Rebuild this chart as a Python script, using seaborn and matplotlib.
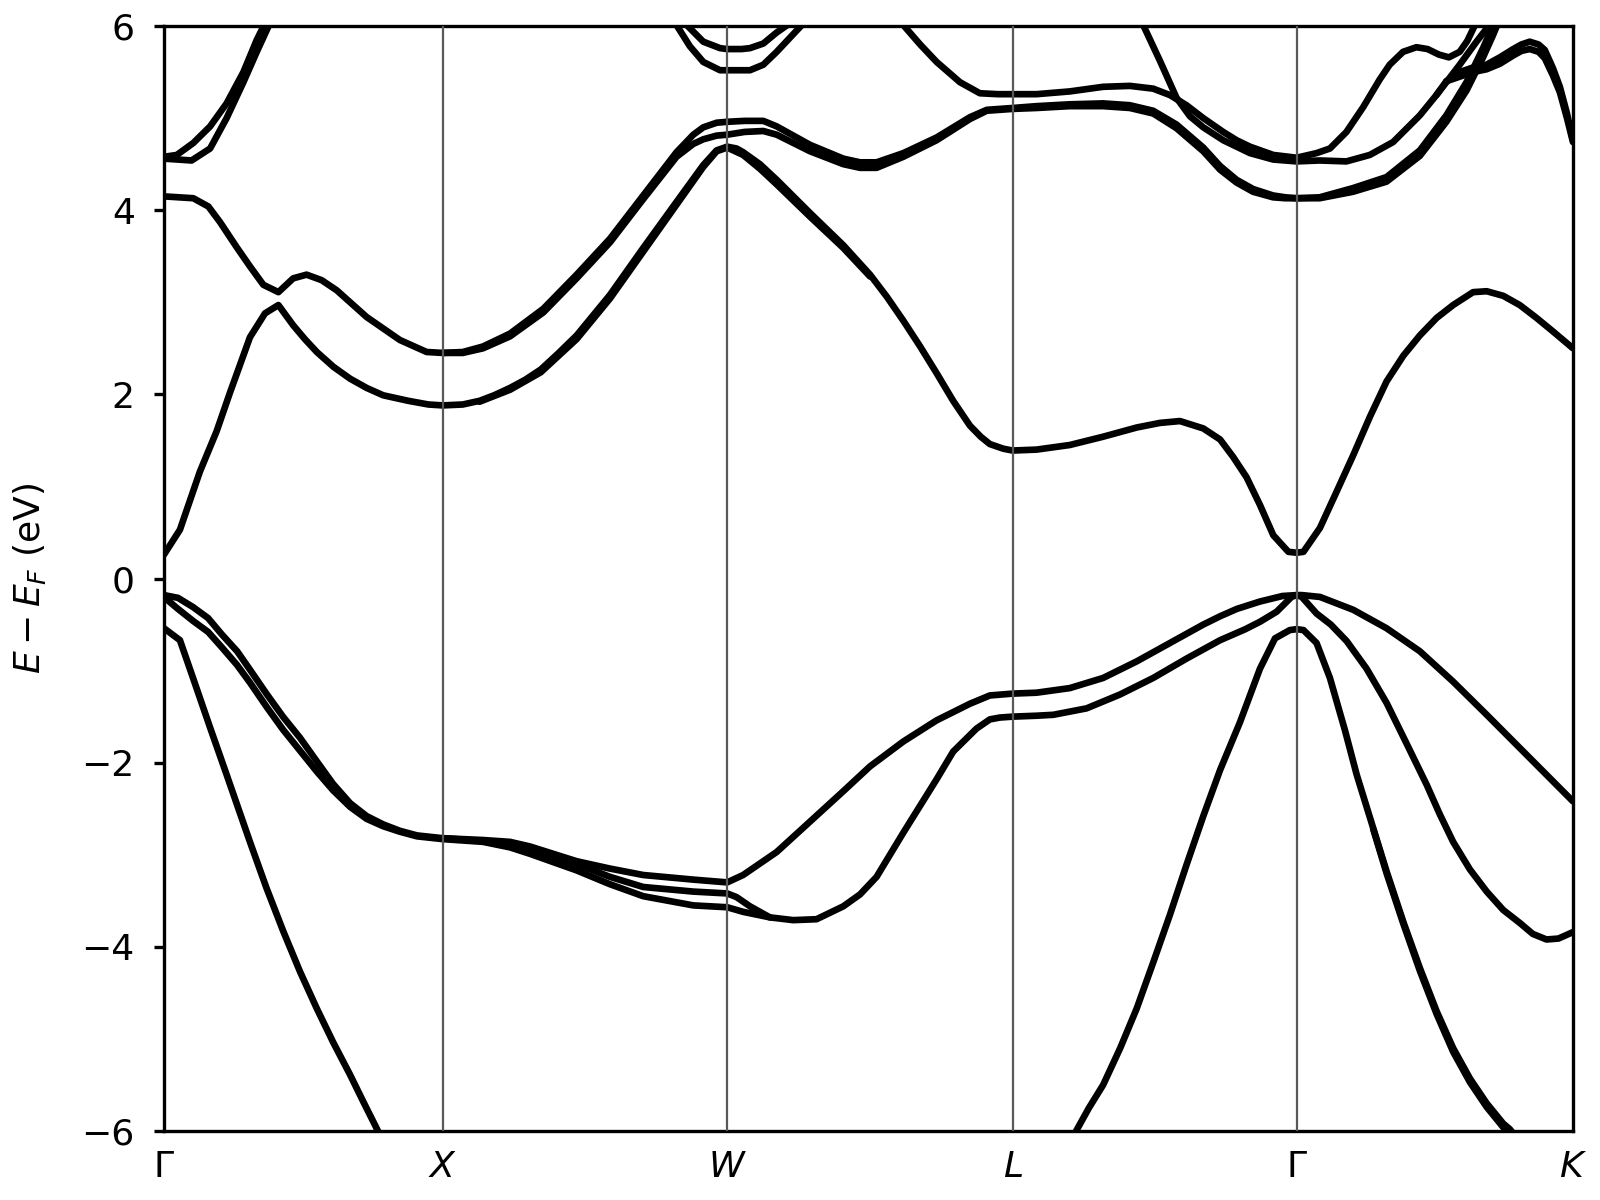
import matplotlib
matplotlib.use("Agg")
import numpy as np
import pandas as pd
import matplotlib.pyplot as plt
import seaborn as sns

# high-symmetry points along the k-path
k_ticks = [0.0, 0.979, 1.979, 2.982, 3.980, 4.951]
k_labels = [r'$\Gamma$', r'$X$', r'$W$', r'$L$', r'$\Gamma$', r'$K$']

# valence bands
vb_top_k = [0, .049, .102, .155, .204, .257, .302, .362, .418, .478, .538, .594, .654, .712, .770, .829, .889, .979,
            1.121, 1.216, 1.286, 1.450, 1.567, 1.684, 1.860, 1.979,
            2.035, 2.153, 2.270, 2.387, 2.481, 2.598, 2.715, 2.832, 2.902, 2.982,
            3.066, 3.183, 3.300, 3.418, 3.535, 3.652, 3.711, 3.770, 3.851, 3.930, 3.980,
            3.998, 4.062, 4.179, 4.296, 4.413, 4.530, 4.648, 4.764, 4.893, 4.951]
vb_top_E = [-0.18, -0.21, -0.31, -0.43, -0.61, -0.79, -0.99, -1.26, -1.50, -1.73, -1.99, -2.23, -2.44, -2.58, -2.67, -2.74, -2.79, -2.82,
            -2.84, -2.86, -2.91, -3.07, -3.15, -3.22, -3.27, -3.30,
            -3.22, -2.97, -2.64, -2.31, -2.04, -1.77, -1.54, -1.36, -1.27, -1.25,
            -1.24, -1.19, -1.08, -0.90, -0.70, -0.50, -0.41, -0.33, -0.25, -0.19, -0.18,
            -0.18, -0.20, -0.34, -0.54, -0.79, -1.12, -1.48, -1.84, -2.24, -2.42]

vb_mid_k = [0.979, 1.121, 1.216, 1.286, 1.450, 1.567, 1.684, 1.860, 1.979, 2.012, 2.059, 2.129]
vb_mid_E = [-2.82, -2.85, -2.89, -2.95, -3.10, -3.24, -3.35, -3.40, -3.42, -3.46, -3.56, -3.68]

vb_low_k = [0, .007, .049, .102, .155, .204, .257, .302, .362, .418, .478, .538, .594, .654, .712, .770, .829, .889, .979,
            1.121, 1.216, 1.286, 1.450, 1.567, 1.684, 1.860, 1.979,
            2.035, 2.129, 2.211, 2.293, 2.387, 2.446, 2.504, 2.598, 2.715, 2.773, 2.855, 2.902, 2.937, 2.982,
            3.066, 3.125, 3.242, 3.359, 3.476, 3.593, 3.711, 3.800, 3.851, 3.910, 3.962, 3.980,
            3.998, 4.050, 4.100, 4.156, 4.226, 4.296, 4.366, 4.437, 4.483, 4.530, 4.589, 4.648, 4.706, 4.764, 4.810, 4.858, 4.900, 4.951]
vb_low_E = [-0.18, -0.22, -0.33, -0.46, -0.58, -0.75, -0.94, -1.13, -1.40, -1.64, -1.87, -2.10, -2.30, -2.48, -2.61, -2.69, -2.75, -2.80, -2.83,
            -2.86, -2.92, -2.99, -3.17, -3.32, -3.45, -3.55, -3.57,
            -3.62, -3.68, -3.71, -3.70, -3.56, -3.43, -3.24, -2.76, -2.18, -1.88, -1.63, -1.53, -1.51, -1.50,
            -1.49, -1.48, -1.41, -1.26, -1.08, -0.87, -0.67, -0.55, -0.47, -0.36, -0.20, -0.18,
            -0.20, -0.38, -0.50, -0.68, -0.98, -1.35, -1.79, -2.24, -2.56, -2.86, -3.16, -3.40, -3.60, -3.74, -3.86, -3.92, -3.91, -3.84]

# split-off band
so_gx_k = [0.0, 0.056, 0.102, 0.161, 0.220, 0.302, 0.360, 0.419, 0.478, 0.537, 0.595, 0.654, 0.700, 0.747, 0.78]
so_gx_E = [-0.54, -0.67, -1.08, -1.61, -2.13, -2.86, -3.36, -3.83, -4.27, -4.67, -5.04, -5.39, -5.68, -5.97, -6.18]

so_k = [3.18, 3.207, 3.250, 3.300, 3.360, 3.418, 3.476, 3.535, 3.593, 3.652, 3.711, 3.781, 3.851, 3.904, 3.956, 3.980,
        4.004, 4.050, 4.097, 4.150, 4.191, 4.249, 4.296, 4.355, 4.413, 4.472, 4.530, 4.589, 4.648, 4.706, 4.729, 4.76]
so_E = [-6.15, -5.99, -5.75, -5.50, -5.10, -4.67, -4.17, -3.65, -3.11, -2.58, -2.08, -1.56, -0.98, -0.65, -0.56, -0.55,
        -0.56, -0.70, -1.08, -1.65, -2.13, -2.71, -3.18, -3.73, -4.23, -4.70, -5.10, -5.43, -5.70, -5.92, -5.98, -6.10]

so2_k = [4.249, 4.296, 4.355, 4.413, 4.472, 4.530, 4.589, 4.648, 4.706, 4.74]
so2_E = [-2.72, -3.20, -3.75, -4.26, -4.73, -5.14, -5.47, -5.74, -5.96, -6.10]

# conduction bands
cb1_k = [0, .056, .126, .185, .232, .302, .355, .402, .454, .495, .537, .595, .654, .712, .770, .858, .929, .979,
         1.05, 1.109, 1.160, 1.216, 1.270, 1.324, 1.387, 1.450, 1.567, 1.684, 1.801, 1.895, 1.942, 1.979,
         2.012, 2.035, 2.094, 2.153, 2.270, 2.387, 2.481, 2.540, 2.598, 2.657, 2.715, 2.773, 2.832, 2.870, 2.902, 2.949, 2.982,
         3.066, 3.183, 3.300, 3.418, 3.500, 3.570, 3.652, 3.711, 3.757, 3.804, 3.851, 3.898, 3.951, 3.980,
         4.004, 4.062, 4.120, 4.179, 4.238, 4.296, 4.355, 4.413, 4.472, 4.530, 4.600, 4.648, 4.706, 4.764, 4.823, 4.882, 4.951]
cb1_E = [0.26, 0.53, 1.16, 1.60, 2.02, 2.62, 2.88, 2.97, 2.75, 2.60, 2.46, 2.30, 2.17, 2.07, 1.99, 1.93, 1.89, 1.88,
         1.89, 1.93, 1.99, 2.07, 2.16, 2.27, 2.45, 2.64, 3.08, 3.59, 4.09, 4.49, 4.65, 4.69,
         4.67, 4.63, 4.50, 4.33, 3.97, 3.62, 3.30, 3.06, 2.80, 2.52, 2.23, 1.93, 1.66, 1.54, 1.46, 1.41, 1.39,
         1.40, 1.45, 1.54, 1.64, 1.69, 1.71, 1.63, 1.51, 1.32, 1.10, 0.80, 0.47, 0.29, 0.28,
         0.29, 0.55, 0.94, 1.34, 1.76, 2.14, 2.42, 2.64, 2.83, 2.97, 3.11, 3.12, 3.07, 2.97, 2.83, 2.68, 2.50]

cb1b_k = [1.109, 1.216, 1.324, 1.450, 1.567, 1.684, 1.801, 1.895, 1.942, 1.979, 2.035, 2.094, 2.153, 2.270, 2.387, 2.481]
cb1b_E = [1.92, 2.05, 2.24, 2.60, 3.04, 3.55, 4.06, 4.47, 4.64, 4.68, 4.60, 4.45, 4.28, 3.93, 3.59, 3.28]

cb2a_k = [0, .103, .156, .197, .255, .302, .349, .402, .454, .501, .554, .607, .712, .829, .923, .979,
          1.05, 1.121, 1.216, 1.333, 1.450, 1.567, 1.684, 1.801, 1.860, 1.895, 1.942, 1.979,
          2.040, 2.106, 2.153, 2.270, 2.387, 2.446, 2.504, 2.598, 2.715, 2.832, 2.891, 2.982,
          3.066, 3.183, 3.300, 3.394, 3.476, 3.558, 3.652, 3.711, 3.769, 3.827, 3.897, 3.940, 3.980,
          4.061, 4.178, 4.296, 4.413, 4.506, 4.577, 4.635, 4.665, 4.70]
cb2a_E = [4.15, 4.13, 4.04, 3.87, 3.60, 3.39, 3.19, 3.11, 3.26, 3.30, 3.24, 3.13, 2.84, 2.59, 2.46, 2.45,
          2.46, 2.52, 2.66, 2.93, 3.30, 3.69, 4.16, 4.63, 4.82, 4.90, 4.95, 4.96,
          4.97, 4.97, 4.91, 4.71, 4.56, 4.52, 4.52, 4.62, 4.79, 5.01, 5.09, 5.11,
          5.13, 5.15, 5.16, 5.14, 5.08, 4.93, 4.68, 4.48, 4.33, 4.23, 4.16, 4.14, 4.13,
          4.14, 4.24, 4.36, 4.65, 5.03, 5.39, 5.76, 5.97, 6.2]

cb2b_k = [0.979, 1.05, 1.121, 1.216, 1.333, 1.450, 1.567, 1.684, 1.801, 1.860, 1.895, 1.942, 1.979,
          2.040, 2.106, 2.153, 2.270, 2.387, 2.446, 2.504, 2.598, 2.715, 2.832, 2.891, 2.982,
          3.066, 3.183, 3.300, 3.394, 3.476, 3.558, 3.652, 3.711, 3.769, 3.827, 3.897, 3.940, 3.980,
          4.061, 4.178, 4.296, 4.413, 4.506, 4.577, 4.635, 4.670, 4.71]
cb2b_E = [2.45, 2.45, 2.50, 2.63, 2.89, 3.26, 3.65, 4.12, 4.58, 4.72, 4.77, 4.81, 4.82,
          4.85, 4.86, 4.82, 4.64, 4.50, 4.46, 4.46, 4.58, 4.76, 4.99, 5.08, 5.10,
          5.11, 5.13, 5.13, 5.11, 5.05, 4.89, 4.64, 4.44, 4.30, 4.20, 4.14, 4.13, 4.13,
          4.13, 4.20, 4.31, 4.59, 4.96, 5.30, 5.66, 5.90, 6.2]

cb3_k = [0, .045, .103, .162, .220, .279, .326, .355, .39]
cb3_E = [4.58, 4.60, 4.73, 4.91, 5.16, 5.50, 5.85, 6.03, 6.3]
cb4_k = [0, .097, .162, .220, .279, .326, .372, .40]
cb4_E = [4.56, 4.54, 4.67, 5.00, 5.39, 5.72, 6.03, 6.25]

cb5_k = [1.78, 1.801, 1.848, 1.895, 1.954, 1.979, 2.059, 2.106, 2.153, 2.235, 2.27]
cb5_E = [6.12, 6.01, 5.78, 5.61, 5.52, 5.52, 5.52, 5.58, 5.72, 5.99, 6.11]
cb6_k = [1.80, 1.837, 1.895, 1.954, 1.979, 2.030, 2.059, 2.106, 2.153, 2.19, 2.23]
cb6_E = [6.12, 6.01, 5.83, 5.76, 5.75, 5.75, 5.76, 5.81, 5.93, 6.01, 6.12]

cb7_k = [2.56, 2.598, 2.657, 2.715, 2.797, 2.867, 2.930, 2.982, 3.066, 3.183, 3.300, 3.394, 3.476, 3.535, 3.593, 3.652,
         3.722, 3.769, 3.816, 3.898, 3.980, 4.050, 4.097, 4.155, 4.214, 4.272, 4.307, 4.354, 4.401, 4.440, 4.480,
         4.515, 4.553, 4.580, 4.605, 4.63]
cb7_E = [6.14, 6.01, 5.80, 5.61, 5.39, 5.27, 5.26, 5.26, 5.26, 5.29, 5.34, 5.35, 5.32, 5.25, 5.14, 5.00,
         4.85, 4.76, 4.69, 4.60, 4.57, 4.62, 4.67, 4.85, 5.12, 5.42, 5.58, 5.72, 5.77, 5.75, 5.69,
         5.66, 5.72, 5.84, 6.0, 6.15]

cb8_k = [3.40, 3.441, 3.500, 3.558, 3.605, 3.652, 3.722, 3.816, 3.898, 3.980, 4.061, 4.155, 4.237, 4.319, 4.413,
         4.471, 4.506, 4.553, 4.612, 4.647, 4.67]
cb8_E = [6.25, 6.01, 5.62, 5.22, 5.02, 4.90, 4.76, 4.62, 4.55, 4.53, 4.54, 4.53, 4.60, 4.74, 5.03,
         5.25, 5.39, 5.58, 5.83, 5.97, 6.1]

cb9_k = [4.471, 4.506, 4.553, 4.600, 4.647, 4.694, 4.741, 4.770, 4.799, 4.830, 4.852, 4.881, 4.905, 4.930, 4.951]
cb9_E = [5.25, 5.40, 5.50, 5.55, 5.58, 5.66, 5.75, 5.80, 5.83, 5.80, 5.74, 5.54, 5.34, 5.05, 4.76]
cb10_k = [4.506, 4.553, 4.600, 4.647, 4.694, 4.741, 4.770, 4.799, 4.830, 4.852, 4.881, 4.905, 4.930, 4.951]
cb10_E = [5.40, 5.45, 5.50, 5.53, 5.59, 5.68, 5.73, 5.75, 5.72, 5.65, 5.46, 5.28, 5.00, 4.74]

bands = {
    'vb_top': (vb_top_k, vb_top_E), 'vb_mid': (vb_mid_k, vb_mid_E), 'vb_low': (vb_low_k, vb_low_E),
    'so_gx': (so_gx_k, so_gx_E), 'so': (so_k, so_E), 'so2': (so2_k, so2_E),
    'cb1': (cb1_k, cb1_E), 'cb1b': (cb1b_k, cb1b_E), 'cb2a': (cb2a_k, cb2a_E), 'cb2b': (cb2b_k, cb2b_E),
    'cb3': (cb3_k, cb3_E), 'cb4': (cb4_k, cb4_E), 'cb5': (cb5_k, cb5_E), 'cb6': (cb6_k, cb6_E),
    'cb7': (cb7_k, cb7_E), 'cb8': (cb8_k, cb8_E), 'cb9': (cb9_k, cb9_E), 'cb10': (cb10_k, cb10_E),
}

rows = []
for name, (ks, es) in bands.items():
    assert len(ks) == len(es), name
    for i, (kk, ee) in enumerate(zip(ks, es)):
        rows.append((name, i, kk, ee))
df = pd.DataFrame(rows, columns=['band', 'idx', 'k', 'E'])

sns.set_style("ticks", {"axes.edgecolor": "black", "xtick.color": "black", "ytick.color": "black",
                        "text.color": "black", "axes.labelcolor": "black"})
plt.rcParams['font.family'] = ['DejaVu Sans']

fig = plt.figure(figsize=(8, 6), dpi=200)
ax = fig.add_axes([0.1025, 0.0575, 0.8806, 0.9208])

sns.lineplot(data=df, x='k', y='E', units='band', estimator=None, sort=False,
             color='black', linewidth=2.4, legend=False, ax=ax)

for kx in k_ticks[1:-1]:
    ax.axvline(kx, color='0.35', lw=0.8, zorder=3)

ax.set_xlim(k_ticks[0], k_ticks[-1])
ax.set_ylim(-6, 6)
ax.set_xticks(k_ticks)
ax.set_xticklabels(k_labels)
ax.set_yticks(np.arange(-6, 7, 2))
ax.tick_params(axis='x', length=0, pad=7, labelsize=13)
ax.tick_params(axis='y', length=3.5, width=1.2, pad=7, labelsize=13)
ax.set_xlabel('')
ax.set_ylabel(r'$E - E_F$ (eV)', fontsize=13, labelpad=12)
for sp in ax.spines.values():
    sp.set_linewidth(1.2)
    sp.set_color('black')

fig.savefig('out.png', dpi=200)
